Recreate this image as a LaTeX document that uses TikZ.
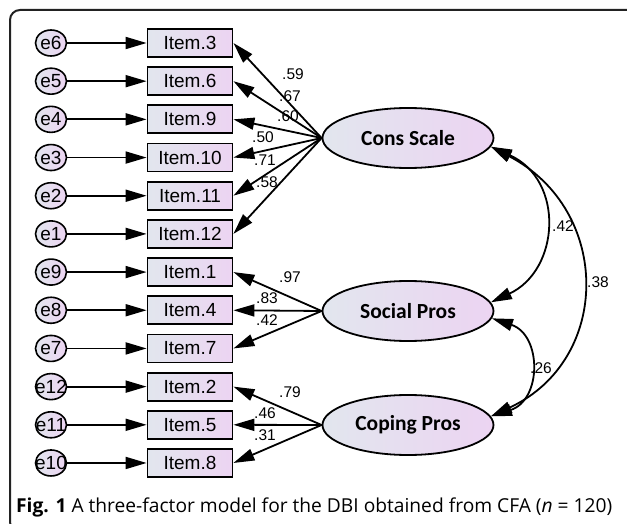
\documentclass[tikz,border=0pt]{standalone}
\usepackage{fontspec}
\setmainfont{Liberation Sans}
\newfontfamily\latfont{Carlito}
\newfontfamily\capfont{Open Sans}
\usetikzlibrary{arrows.meta,shapes.geometric}
\definecolor{gl}{HTML}{E2E6EE}
\definecolor{gr}{HTML}{ECD4F2}
\definecolor{frm}{HTML}{222222}
\tikzset{
  fillgrad/.style={left color=gl, right color=gr},
  errnode/.style={ellipse, draw, line width=1.6pt, fillgrad, minimum width=31pt, minimum height=26pt, inner sep=0pt, font=\fontsize{19}{19}\selectfont},
  itemnode/.style={rectangle, draw, line width=1.8pt, fillgrad, minimum width=85pt, minimum height=28pt, inner sep=0pt, font=\fontsize{19}{19}\selectfont},
  latnode/.style={ellipse, draw, line width=1.8pt, fillgrad, minimum width=171pt, minimum height=60pt, inner sep=0pt, font=\latfont\bfseries\fontsize{21.5}{21.5}\selectfont},
  tip/.style={-{Triangle[length=21pt,width=12pt]}},
  btip/.style={{Triangle[length=21pt,width=12pt]}-{Triangle[length=21pt,width=12pt]}},
  conn/.style={line width=1.8pt, black},
  lbl/.style={inner sep=0pt, font=\fontsize{15.5}{15.5}\selectfont},
}
\begin{document}
\begin{tikzpicture}[x=1pt,y=-1pt]
\useasboundingbox (0,0) rectangle (627,524);
\begin{scope}
\clip (0,0) rectangle (627,524);
\draw[line width=2pt, frm, rounded corners=10pt] (10,10) rectangle (660,532);
\end{scope}
% rows
\foreach \k/\e/\it in {0/6/3,1/5/6,2/4/9,3/3/10,4/2/11,5/1/12,6/9/1,7/8/4,8/7/7,9/12/2,10/11/5,11/10/8}{
  \node[itemnode] (i\it) at (190,{43+\k*38.18}) {Item.\it};
  \node[errnode] (e\e) at (51,{43+\k*38.18}) {\makebox[0pt]{e\e}};
  \draw[conn,tip] (e\e) -- (i\it.west);
}
% latent variables
\node[latnode] (cons) at (408,138) {Cons Scale};
\node[latnode] (soc) at (408,311) {Social Pros};
\node[latnode] (cop) at (408,425) {Coping Pros};
% loadings
\foreach \it in {3,6,9,10,11,12}{ \draw[conn,tip] (cons.west) -- (i\it.east); }
\foreach \it in {1,4,7}{ \draw[conn,tip] (soc.west) -- (i\it.east); }
\foreach \it in {2,5,8}{ \draw[conn,tip] (cop.west) -- (i\it.east); }
% loading labels
\node[lbl] (l1) at (293,74) {.59};
\node[lbl] (l2) at (290,96) {.67};
\node[lbl] (l3) at (288,116) {.60};
\node[lbl] (l4) at (263,137) {.50};
\node[lbl] (l5) at (265,160) {.71};
\node[lbl] (l6) at (267,182) {.58};
\node[lbl] (l7) at (290,277) {.97};
\node[lbl] (l8) at (267,298) {.83};
\node[lbl] (l9) at (267,320) {.42};
\node[lbl] (l10) at (290,392) {.79};
\node[lbl] (l11) at (265,413) {.46};
\node[lbl] (l12) at (265,435) {.31};
% covariances
\draw[conn,btip] (cons.-6) .. controls (565,180) and (560,270) .. (soc.6);
\draw[conn,btip] (cons.-6) .. controls (612,210) and (612,360) .. (cop.6);
\draw[conn,btip] (soc.-5) .. controls (542,335) and (542,400) .. (cop.6);
\node[lbl] (c1) at (563,226) {.42};
\node[lbl] (c2) at (598,282) {.38};
\node[lbl] (c3) at (541,368) {.26};
% caption
\node[anchor=west, inner sep=0pt, font=\capfont\fontsize{19.2}{19.2}\selectfont] (cap) at (16,507) {\textbf{Fig. 1} A three-factor model for the DBI obtained from CFA (\textit{n} = 120)};
\end{tikzpicture}
\end{document}
